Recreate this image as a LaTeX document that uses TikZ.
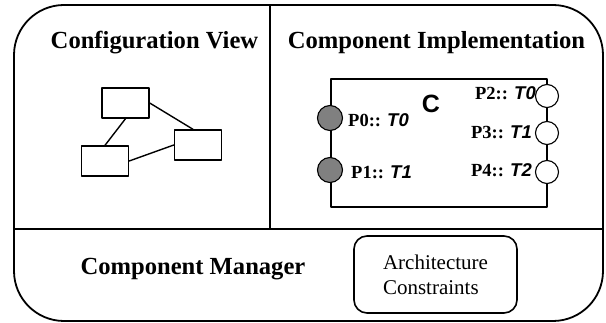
\documentclass[tikz,border=0pt]{standalone}
\usepackage{fontspec}
\setmainfont{Liberation Serif}
\setsansfont{Liberation Sans}
\begin{document}
\begin{tikzpicture}[x=1pt, y=-1pt, line join=round, line cap=round,
		head/.style={font=\bfseries\fontsize{24.6}{28}\selectfont, anchor=base},
		cbox/.style={draw, line width=1.4pt, minimum width=47pt, minimum height=30pt, inner sep=0pt},
		pin/.style={draw, line width=1.1pt, circle, minimum size=#1, inner sep=0pt},
		inport/.style={pin=25pt, fill=black!50},
		outport/.style={pin=23pt, fill=white},
		plabel/.style={font=\bfseries\fontsize{18.5}{20}\selectfont, inner sep=0pt}]
	\def\xl{14} \def\xr{603} % outer frame
	\def\yt{5} \def\yb{321}
	\def\xm{270} \def\ym{229} % dividers
	\useasboundingbox (0,0) rectangle (606,323);
	\draw[line width=1.8pt, rounded corners=50pt] (\xl,\yt) rectangle (\xr,\yb);
	\draw[line width=1.5pt] (\xl,\ym)--(\xr,\ym) (\xm,\yt)--(\xm,\ym);
	% configuration view
	\node[head] (cfgview) at (154.5,49) {Configuration View};
	\node[cbox] (b1) at (125.5,103) {};
	\node[cbox] (b2) at (105,161) {};
	\node[cbox] (b3) at (198,145) {};
	\draw[line width=1.4pt] (b1.south)--(b2.north) (b1.east)--([xshift=-5pt]b3.north) (b2.east)--(b3.west);
	% component implementation
	\node[head] (impl) at (436.5,49) {Component Implementation};
	\node[draw, line width=1.2pt, minimum width=216pt, minimum height=128pt, inner sep=0pt] (comp) at (439,143) {};
	\node[font=\sffamily\bfseries\fontsize{25}{28}\selectfont, anchor=base] (cname) at (431,113) {C};
	\node[inport] (p0) at (330,118) {};
	\node[inport] (p1) at (330,170) {};
	\node[outport] (p2) at (547,96) {};
	\node[outport] (p3) at (547,133) {};
	\node[outport] (p4) at (547,172) {};
	\node[plabel, anchor=base west] (l0) at (348,127) {P0:: \textsf{\textit{T0}}};
	\node[plabel, anchor=base west] (l1) at (351,179) {P1:: \textsf{\textit{T1}}};
	\node[plabel, anchor=base east] (l2) at (536,100) {P2:: \textsf{\textit{T0}}};
	\node[plabel, anchor=base east] (l3) at (532,139) {P3:: \textsf{\textit{T1}}};
	\node[plabel, anchor=base east] (l4) at (532,177) {P4:: \textsf{\textit{T2}}};
	% component manager
	\node[head] (manager) at (193,275) {Component Manager};
	\node[draw, line width=1.6pt, rounded corners=13pt, minimum width=163pt, minimum height=77pt, align=left,
		font=\fontsize{21}{25}\selectfont] (arch) at (435.5,274.5) {Architecture\\Constraints};
\end{tikzpicture}
\end{document}
